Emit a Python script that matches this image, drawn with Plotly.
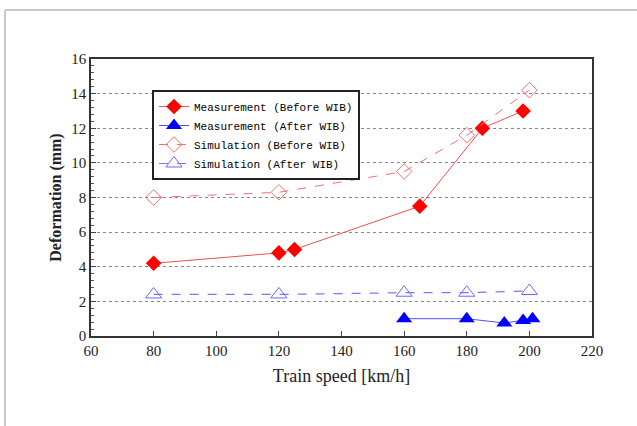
import plotly.graph_objects as go

# Train speed (km/h) and deformation (mm) for each series
speed_meas_before = [80, 120, 125, 165, 185, 198]
defo_meas_before = [4.2, 4.8, 5.0, 7.5, 12.0, 13.0]

speed_meas_after = [160, 180, 192, 198, 201]
defo_meas_after = [1.0, 1.0, 0.75, 0.9, 1.0]

speed_sim_before = [80, 120, 160, 180, 200]
defo_sim_before = [8.0, 8.3, 9.5, 11.6, 14.2]

speed_sim_after = [80, 120, 160, 180, 200]
defo_sim_after = [2.4, 2.4, 2.5, 2.5, 2.6]

x_ticks = [60, 80, 100, 120, 140, 160, 180, 200, 220]
y_ticks = [0, 2, 4, 6, 8, 10, 12, 14, 16]

fig = go.Figure()

fig.add_trace(go.Scatter(
    x=speed_meas_before, y=defo_meas_before, mode="lines+markers",
    name="Measurement (Before WIB)",
    line=dict(color="#f05050", width=1),
    marker=dict(symbol="diamond", size=12, color="#ff0000"),
))
fig.add_trace(go.Scatter(
    x=speed_meas_after, y=defo_meas_after, mode="lines+markers",
    name="Measurement (After WIB)",
    line=dict(color="#5050ff", width=1),
    marker=dict(symbol="triangle-up", size=14, color="#0000ff"),
))
fig.add_trace(go.Scatter(
    x=speed_sim_before, y=defo_sim_before, mode="lines+markers",
    name="Simulation (Before WIB)",
    line=dict(color="#f07070", width=1, dash="dash"),
    marker=dict(symbol="diamond-open", size=12, color="#f07070", line=dict(width=1)),
))
fig.add_trace(go.Scatter(
    x=speed_sim_after, y=defo_sim_after, mode="lines+markers",
    name="Simulation (After WIB)",
    line=dict(color="#7878ff", width=1.2, dash="dash"),
    marker=dict(symbol="triangle-up-open", size=14, color="#6a6aff", line=dict(width=1)),
))

axis_font = dict(family="Liberation Serif", size=15, color="#222222")

fig.update_xaxes(
    range=[60, 220], tickvals=x_ticks, ticks="inside", ticklen=5,
    tickcolor="#444", showline=True, linecolor="#333", linewidth=1.5,
    mirror=True, showgrid=False, zeroline=False, tickfont=axis_font,
    title=dict(text="Train speed [km/h]",
               font=dict(family="Liberation Serif", size=18, color="#222"),
               standoff=12),
)
fig.update_yaxes(
    range=[0, 16], tickvals=y_ticks, ticks="inside", ticklen=5,
    tickcolor="#444", showline=True, linecolor="#333", linewidth=1.5,
    mirror=True, showgrid=True, gridcolor="#888888", gridwidth=1,
    griddash="dot", zeroline=False, tickfont=axis_font,
    minor=dict(dtick=0.4, ticks="inside", ticklen=3, tickcolor="#555", showgrid=False),
    title=dict(text="<b>Deformation (mm)</b>",
               font=dict(family="Liberation Serif", size=16, color="#222"),
               standoff=6),
)

# thin grey frame along the top and left edges of the page
px_to_x = lambda p: (p - 91) / 501
px_to_y = lambda p: (336 - p) / 277
fig.add_shape(type="line", xref="paper", yref="paper",
              x0=px_to_x(5), x1=px_to_x(640), y0=px_to_y(10), y1=px_to_y(10),
              line=dict(color="#c8c8c8", width=2))
fig.add_shape(type="line", xref="paper", yref="paper",
              x0=px_to_x(5), x1=px_to_x(5), y0=px_to_y(10), y1=px_to_y(430),
              line=dict(color="#c8c8c8", width=2))

fig.update_layout(
    width=637, height=426,
    margin=dict(l=91, r=45, t=59, b=90),
    paper_bgcolor="white", plot_bgcolor="white",
    legend=dict(
        x=px_to_x(152), y=px_to_y(90), xanchor="left", yanchor="top",
        bgcolor="white", bordercolor="#222", borderwidth=2,
        font=dict(family="Liberation Mono", size=11, color="#000"),
        itemwidth=30, tracegroupgap=0,
    ),
)

fig.write_html("out.html")
